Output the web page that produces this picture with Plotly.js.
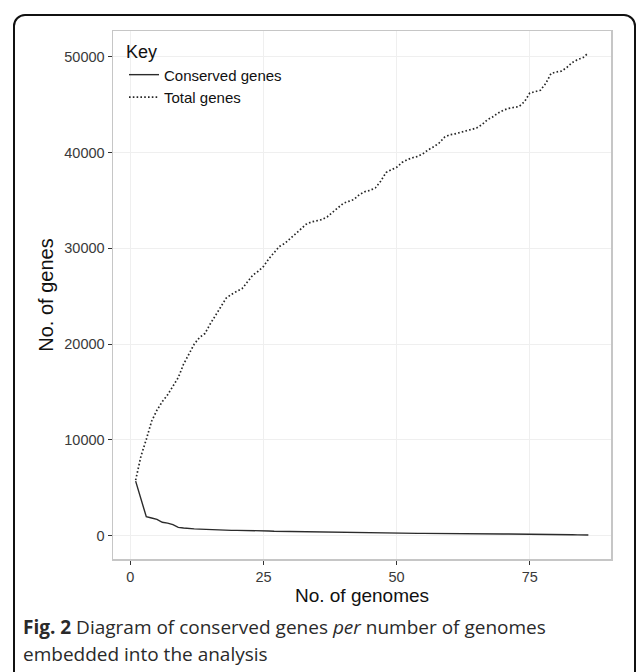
<!DOCTYPE html>
<html>
<head>
<meta charset="utf-8">
<script src="https://cdn.plot.ly/plotly-3.0.1.min.js"></script>
<style>
  html, body { margin: 0; padding: 0; background: #ffffff; }
  #wrap { position: relative; width: 636px; height: 672px; overflow: hidden; }
  #chart { position: absolute; left: 0; top: 0; width: 636px; height: 672px; }
  #frame { position: absolute; left: 13px; top: 14px; width: 623px; height: 700px;
           border: 2px solid #111; border-radius: 12px; pointer-events: none; box-sizing: border-box; }
</style>
</head>
<body>
<div id="wrap">
  <div id="chart"></div>
  <div id="frame"></div>
</div>
<script>
// Number of genomes embedded into the analysis
const genomes = [];
for (let i = 1; i <= 86; i++) genomes.push(i);

// Total genes (dotted line)
const totalGenes = [
  5800, 8300, 10050, 11950, 13100, 14000, 14700, 15600, 16500, 17900,
  19000, 20000, 20700, 21100, 22100, 23000, 24000, 24800, 25200, 25500,
  25800, 26500, 27200, 27600, 28100, 28900, 29600, 30200, 30500, 31000,
  31600, 32100, 32500, 32750, 32850, 33000, 33300, 33800, 34200, 34700,
  34900, 35100, 35600, 35900, 36050, 36300, 37000, 37900, 38200, 38450,
  38950, 39250, 39450, 39600, 39900, 40300, 40600, 41000, 41600, 41850,
  41950, 42100, 42250, 42400, 42550, 42900, 43400, 43700, 44100, 44400,
  44600, 44700, 44800, 45300, 46200, 46350, 46500, 47200, 48250, 48400,
  48500, 48900, 49400, 49700, 49900, 50400
];

// Conserved genes (solid line)
const conservedGenes = [
  5700, 3840, 1980, 1850, 1710, 1400, 1320, 1150, 870, 800,
  730, 710, 690, 660, 630, 590, 565, 562, 560, 558,
  556, 555, 553, 551, 548, 500, 460, 455, 450, 445,
  440, 436, 432, 428, 424, 420, 350, 350, 350, 350,
  350, 348, 340, 330, 320, 310, 300, 295, 290, 280,
  272, 264, 256, 248, 240, 232, 224, 210, 205, 200,
  198, 196, 194, 192, 190, 188, 186, 185, 184, 183,
  182, 181, 180, 178, 177, 170, 160, 150, 140, 130,
  120, 110, 100, 90, 85, 75
];

const seriesNames = ["Conserved genes", "Total genes"];
const xTickVals = [0, 25, 50, 75];
const yTickVals = [0, 10000, 20000, 30000, 40000, 50000];
const yTickText = ["0", "10000", "20000", "30000", "40000", "50000"];

const FONT = "Liberation Sans, Arial, Helvetica, sans-serif";
const CAPFONT = "Open Sans, Noto Sans, sans-serif";

const traces = [
  {
    x: genomes, y: conservedGenes, name: seriesNames[0],
    type: "scatter", mode: "lines",
    line: { color: "#2b2b2b", width: 1.4, dash: "solid" }
  },
  {
    x: genomes, y: totalGenes, name: seriesNames[1],
    type: "scatter", mode: "lines",
    line: { color: "#262626", width: 1.7, dash: "1.6px,2.2px" }
  }
];

const plotL = 113, plotR = 611, plotT = 31, plotB = 559;
const pw = plotR - plotL, ph = plotB - plotT;
const px = v => (v - plotL) / pw;
const py = v => (plotB - v) / ph;

const layout = {
  width: 636, height: 672,
  margin: { l: plotL, r: 636 - plotR, t: plotT, b: 672 - plotB, pad: 0 },
  paper_bgcolor: "#ffffff",
  plot_bgcolor: "#ffffff",
  font: { family: FONT, color: "#222" },
  showlegend: true,
  legend: {
    x: px(124), y: py(35), xanchor: "left", yanchor: "top",
    bgcolor: "rgba(255,255,255,0)",
    borderwidth: 0,
    font: { size: 15, color: "#111", family: FONT },
    title: { text: "Key", font: { size: 18, color: "#111", family: FONT } },
    itemwidth: 30,
    tracegroupgap: 0
  },
  xaxis: {
    range: [-3.25, 90.25],
    tickmode: "array", tickvals: xTickVals,
    ticks: "outside", ticklen: 4, tickwidth: 1, tickcolor: "#333",
    tickfont: { size: 14.5, color: "#3a3a3a", family: FONT },
    showgrid: true, gridcolor: "#EFEFEF", gridwidth: 1,
    zeroline: false,
    showline: true, linecolor: "#C6C6C6", linewidth: 1.5, mirror: true,
    title: { text: "No. of genomes", font: { size: 19, color: "#111", family: FONT }, standoff: 2 },
    automargin: false
  },
  yaxis: {
    range: [-2430, 52680],
    tickmode: "array", tickvals: yTickVals, ticktext: yTickText,
    ticks: "outside", ticklen: 4, tickwidth: 1, tickcolor: "#333",
    tickfont: { size: 14.5, color: "#3a3a3a", family: FONT },
    showgrid: true, gridcolor: "#EFEFEF", gridwidth: 1,
    zeroline: false,
    showline: true, linecolor: "#C6C6C6", linewidth: 1.5, mirror: true,
    title: { text: "No. of genes", font: { size: 20, color: "#111", family: FONT }, standoff: 5 },
    automargin: false
  },
  annotations: [
    {
      xref: "paper", yref: "paper", x: px(21), y: py(627),
      xanchor: "left", yanchor: "middle", showarrow: false, align: "left",
      text: "<b>Fig. 2</b> Diagram of conserved genes <i>per</i> number of genomes",
      font: { family: CAPFONT, size: 19, color: "#2a2a2a" }
    },
    {
      xref: "paper", yref: "paper", x: px(21), y: py(654),
      xanchor: "left", yanchor: "middle", showarrow: false, align: "left",
      text: "embedded into the analysis",
      font: { family: CAPFONT, size: 19, color: "#2a2a2a" }
    }
  ]
};

Plotly.newPlot("chart", traces, layout, { displayModeBar: false, staticPlot: true });
</script>
</body>
</html>
